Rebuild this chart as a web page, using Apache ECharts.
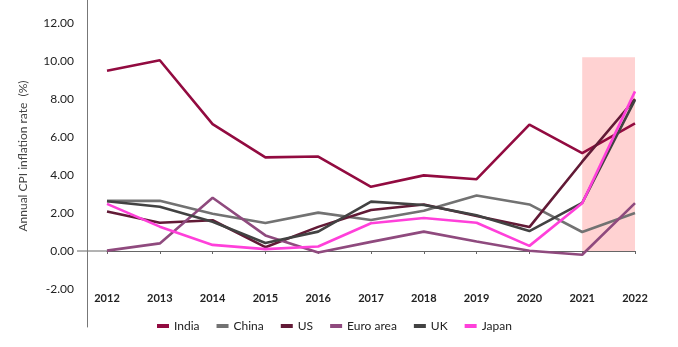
<!DOCTYPE html>
<html>
<head>
<meta charset="utf-8">
<script src="https://cdn.jsdelivr.net/npm/echarts@6/dist/echarts.min.js"></script>
<style>
  html, body { margin: 0; padding: 0; background: #fff; }
  #chart { width: 678px; height: 347px; }
</style>
</head>
<body>
<div id="chart"></div>
<script>
// Annual CPI inflation by economy, 2012-2022
const years = ['2012','2013','2014','2015','2016','2017','2018','2019','2020','2021','2022'];

const india    = [9.49, 10.04, 6.68, 4.93, 4.97, 3.38, 3.98, 3.78, 6.65, 5.15, 6.72];
const china    = [2.64, 2.64, 1.96, 1.47, 2.02, 1.63, 2.12, 2.92, 2.45, 1.00, 2.00];
const us       = [2.08, 1.49, 1.62, 0.20, 1.27, 2.16, 2.45, 1.84, 1.26, 4.70, 8.00];
const euroArea = [0.02, 0.40, 2.80, 0.82, -0.08, 0.48, 1.02, 0.50, 0.01, -0.20, 2.52];
const uk       = [2.62, 2.33, 1.54, 0.42, 1.02, 2.60, 2.42, 1.88, 1.05, 2.53, 7.95];
const japan    = [2.48, 1.28, 0.32, 0.10, 0.24, 1.46, 1.74, 1.49, 0.27, 2.51, 8.40];

// Highlighted period
const shadeYears = ['2021', '2022'];
const shadeTop = 10.2;

const yTicksShown = [-2, 0, 2, 4, 6, 8, 10, 12];

const seriesDefs = [
  { name: 'India',     data: india,    color: '#920B40' },
  { name: 'China',     data: china,    color: '#727272' },
  { name: 'US',        data: us,       color: '#621A36' },
  { name: 'Euro area', data: euroArea, color: '#8F4A7E' },
  { name: 'UK',        data: uk,       color: '#424242' },
  { name: 'Japan',     data: japan,    color: '#FF40DA' }
];

const font = 'Lato, "Open Sans", "DejaVu Sans", sans-serif';
const chart = echarts.init(document.getElementById('chart'), null, { renderer: 'canvas' });

const series = seriesDefs.map((s, i) => {
  const item = {
    name: s.name,
    type: 'line',
    data: s.data,
    symbol: 'none',
    lineStyle: { width: 2.6, color: s.color },
    itemStyle: { color: s.color },
    z: 3 + i
  };
  if (i === 0) {
    item.markArea = {
      silent: true,
      itemStyle: { color: '#FFD2D2' },
      data: [[
        { xAxis: shadeYears[0], yAxis: 0 },
        { xAxis: shadeYears[1], yAxis: shadeTop }
      ]]
    };
  }
  return item;
});

chart.setOption({
  animation: false,
  backgroundColor: '#ffffff',
  textStyle: { fontFamily: font },
  grid: { left: 107, right: 43, top: -15, bottom: 20, containLabel: false, outerBoundsMode: 'none' },
  legend: {
    top: 315,
    left: 152,
    itemWidth: 12,
    itemHeight: 4,
    itemGap: 17,
    icon: 'rect',
    textStyle: { fontFamily: font, fontSize: 12, color: '#222' },
    data: seriesDefs.map(s => s.name)
  },
  xAxis: [{
    // axis drawn through zero
    type: 'category',
    data: years,
    boundaryGap: false,
    axisLine: { onZero: true, lineStyle: { color: '#666', width: 1 } },
    axisTick: { show: true, alignWithLabel: true, length: 3, lineStyle: { color: '#666' } },
    axisLabel: { show: false }
  }, {
    // year labels along the foot of the plot
    type: 'category',
    data: years,
    boundaryGap: false,
    position: 'bottom',
    axisLine: { show: false, onZero: false },
    axisTick: { show: false },
    axisLabel: { margin: -34, fontSize: 11, fontWeight: 'bold', color: '#222', fontFamily: font }
  }],
  yAxis: {
    type: 'value',
    min: -4,
    max: 14,
    interval: 2,
    offset: 20,
    splitLine: { show: false },
    axisTick: { show: false },
    axisLine: { show: true, lineStyle: { color: '#777', width: 1 } },
    axisLabel: {
      margin: 13,
      fontSize: 12,
      color: '#222',
      fontFamily: font,
      formatter: v => (yTicksShown.indexOf(v) >= 0 ? v.toFixed(2) : '')
    },
    name: 'Annual CPI inflation rate  (%)',
    nameLocation: 'middle',
    nameGap: 58,
    nameTextStyle: { fontSize: 12, color: '#444', fontFamily: font }
  },
  series: series
});

// Carry the horizontal axis line across to the left of the vertical axis
const origin = chart.convertToPixel({ xAxisIndex: 0, yAxisIndex: 0 }, [years[0], 0]);
chart.setOption({
  graphic: [{
    type: 'line',
    shape: { x1: origin[0] - 30, y1: origin[1], x2: origin[0], y2: origin[1] },
    style: { stroke: '#666', lineWidth: 1 },
    silent: true
  }]
});
</script>
</body>
</html>
